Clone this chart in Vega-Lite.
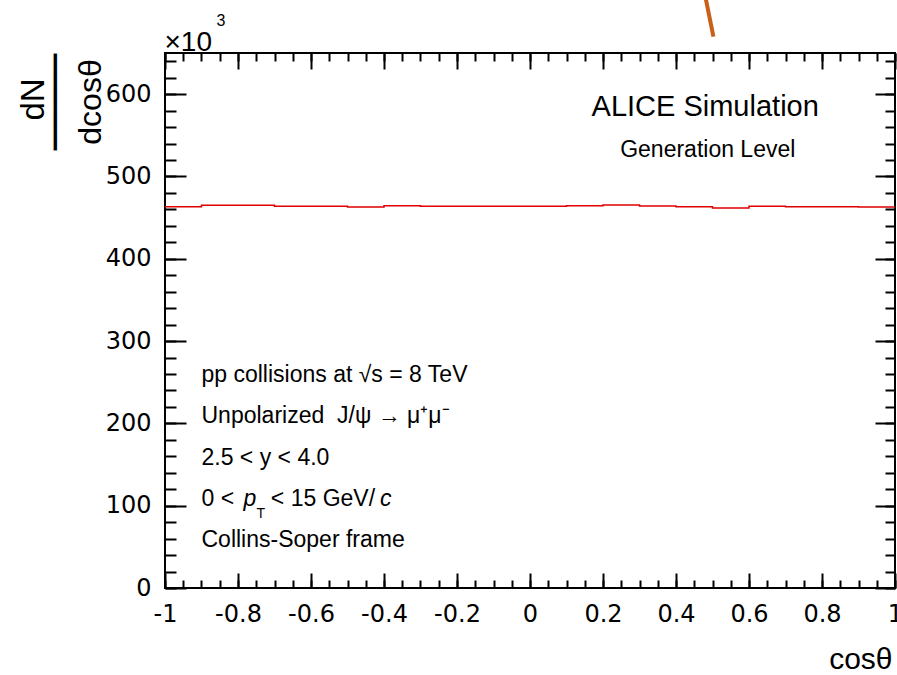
{
  "$schema": "https://vega.github.io/schema/vega-lite/v6.json",
  "width": 730,
  "height": 535,
  "autosize": {"type": "none"},
  "padding": {"left": 165, "top": 53, "right": 2, "bottom": 87},
  "background": "white",
  "config": {
    "view": {"stroke": "black", "strokeWidth": 2},
    "axis": {
      "domain": false, "grid": false, "tickColor": "black", "tickWidth": 2,
      "labelFont": "DejaVu Sans", "labelFontSize": 24, "labelColor": "black",
      "labelFlush": false, "labelOverlap": false, "labelBound": false,
      "titleColor": "black", "titleFont": "Liberation Sans", "titleFontWeight": "normal"
    },
    "text": {"font": "Liberation Sans", "color": "black"}
  },
  "resolve": {"axis": {"x": "independent", "y": "independent"}},
  "datasets": {
    "hist": [
      {"lo": -1.0, "n": 463.3}, {"lo": -0.9, "n": 465.0}, {"lo": -0.8, "n": 465.0}, {"lo": -0.7, "n": 463.7},
      {"lo": -0.6, "n": 463.9}, {"lo": -0.5, "n": 462.9}, {"lo": -0.4, "n": 464.5}, {"lo": -0.3, "n": 463.9},
      {"lo": -0.2, "n": 463.7}, {"lo": -0.1, "n": 463.7}, {"lo": 0.0, "n": 463.7}, {"lo": 0.1, "n": 464.5},
      {"lo": 0.2, "n": 465.3}, {"lo": 0.3, "n": 464.1}, {"lo": 0.4, "n": 463.3}, {"lo": 0.5, "n": 461.7},
      {"lo": 0.6, "n": 463.7}, {"lo": 0.7, "n": 463.3}, {"lo": 0.8, "n": 463.3}, {"lo": 0.9, "n": 462.9},
      {"lo": 1.0, "n": 462.9}
    ],
    "block": [
      {"t": "pp collisions at √s = 8 TeV", "x": -0.9, "y": 250},
      {"t": "Unpolarized\u00a0\u00a0J/ψ → μ⁺μ⁻", "x": -0.9, "y": 200},
      {"t": "2.5 < y < 4.0", "x": -0.9, "y": 150},
      {"t": "0 <", "x": -0.9, "y": 100},
      {"t": "< 15 GeV/", "x": -0.71, "y": 100},
      {"t": "Collins-Soper frame", "x": -0.9, "y": 50}
    ],
    "italic": [
      {"t": "p", "x": -0.785, "y": 100},
      {"t": "c", "x": -0.411, "y": 100}
    ],
    "sub": [
      {"t": "T", "x": -0.749, "y": 85.4}
    ],
    "alice": [
      {"t": "ALICE Simulation", "x": 0.48, "y": 573}
    ],
    "gen": [
      {"t": "Generation Level", "x": 0.487, "y": 523.5}
    ],
    "stray": [
      {"x": 0.482, "y": 715},
      {"x": 0.5025, "y": 670}
    ]
  },
  "layer": [
    {
      "data": {"name": "hist"},
      "mark": {"type": "line", "interpolate": "step-after", "color": "#e00000", "strokeWidth": 1.5},
      "encoding": {
        "x": {
          "field": "lo", "type": "quantitative",
          "scale": {"domain": [-1, 1], "nice": false, "zero": false},
          "axis": {
            "orient": "bottom",
            "values": [-1, -0.8, -0.6, -0.4, -0.2, 0, 0.2, 0.4, 0.6, 0.8, 1],
            "tickSize": -15, "labelPadding": 29.5, "labelBaseline": "top", "labelAlign": "center",
            "labelExpr": "datum.value < 0 ? '-' + format(-datum.value, '~g') : format(datum.value, '~g')",
            "title": "cosθ", "titleFontSize": 30, "titleX": 727, "titleY": 80,
            "titleAlign": "right", "titleBaseline": "alphabetic", "titleAngle": 0
          }
        },
        "y": {
          "field": "n", "type": "quantitative",
          "scale": {"domain": [0, 650], "nice": false, "zero": false},
          "axis": {
            "orient": "left",
            "values": [0, 100, 200, 300, 400, 500, 600],
            "tickSize": -21, "labelPadding": 35, "labelAlign": "right", "labelBaseline": "middle",
            "title": "dcosθ", "titleFontSize": 32, "titleAngle": 270, "titleX": -65, "titleY": 48.5,
            "titleAlign": "center", "titleBaseline": "alphabetic"
          }
        }
      }
    },
    {
      "data": {"name": "block"},
      "mark": {"type": "text", "align": "left", "baseline": "alphabetic", "fontSize": 23, "clip": false},
      "encoding": {
        "x": {
          "field": "x", "type": "quantitative",
          "scale": {"domain": [-1, 1], "nice": false, "zero": false},
          "axis": {
            "orient": "bottom",
            "values": [-1, -0.95, -0.9, -0.85, -0.8, -0.75, -0.7, -0.65, -0.6, -0.55, -0.5, -0.45, -0.4, -0.35, -0.3, -0.25, -0.2, -0.15, -0.1, -0.05, 0, 0.05, 0.1, 0.15, 0.2, 0.25, 0.3, 0.35, 0.4, 0.45, 0.5, 0.55, 0.6, 0.65, 0.7, 0.75, 0.8, 0.85, 0.9, 0.95, 1],
            "tickSize": -8, "labels": false, "title": null
          }
        },
        "y": {
          "field": "y", "type": "quantitative",
          "scale": {"domain": [0, 650], "nice": false, "zero": false},
          "axis": {
            "orient": "left",
            "values": [0, 20, 40, 60, 80, 100, 120, 140, 160, 180, 200, 220, 240, 260, 280, 300, 320, 340, 360, 380, 400, 420, 440, 460, 480, 500, 520, 540, 560, 580, 600, 620, 640],
            "tickSize": -11, "labels": false,
            "title": "dN", "titleFontSize": 33, "titleAngle": 270, "titleX": -122, "titleY": 46,
            "titleAlign": "center", "titleBaseline": "alphabetic"
          }
        },
        "text": {"field": "t"}
      }
    },
    {
      "data": {"name": "alice"},
      "mark": {"type": "text", "align": "center", "baseline": "alphabetic", "fontSize": 29, "clip": false},
      "encoding": {
        "x": {
          "field": "x", "type": "quantitative",
          "scale": {"domain": [-1, 1], "nice": false, "zero": false},
          "axis": {
            "orient": "top",
            "values": [-1, -0.8, -0.6, -0.4, -0.2, 0, 0.2, 0.4, 0.6, 0.8, 1],
            "tickSize": -16, "labels": false,
            "title": "×10", "titleFontSize": 28, "titleX": -1, "titleY": -3,
            "titleAlign": "left", "titleBaseline": "alphabetic", "titleAngle": 0
          }
        },
        "y": {
          "field": "y", "type": "quantitative",
          "scale": {"domain": [0, 650], "nice": false, "zero": false},
          "axis": {
            "orient": "right",
            "values": [0, 100, 200, 300, 400, 500, 600],
            "tickSize": -20, "labels": false,
            "title": "━━━━━━━━", "titleFont": "DejaVu Sans", "titleFontSize": 20,
            "titleAngle": 270, "titleX": -840, "titleY": 48.5,
            "titleAlign": "center", "titleBaseline": "middle"
          }
        },
        "text": {"field": "t"}
      }
    },
    {
      "data": {"name": "gen"},
      "mark": {"type": "text", "align": "center", "baseline": "alphabetic", "fontSize": 23, "clip": false},
      "encoding": {
        "x": {
          "field": "x", "type": "quantitative",
          "scale": {"domain": [-1, 1], "nice": false, "zero": false},
          "axis": {
            "orient": "top",
            "values": [-1, -0.95, -0.9, -0.85, -0.8, -0.75, -0.7, -0.65, -0.6, -0.55, -0.5, -0.45, -0.4, -0.35, -0.3, -0.25, -0.2, -0.15, -0.1, -0.05, 0, 0.05, 0.1, 0.15, 0.2, 0.25, 0.3, 0.35, 0.4, 0.45, 0.5, 0.55, 0.6, 0.65, 0.7, 0.75, 0.8, 0.85, 0.9, 0.95, 1],
            "tickSize": -8, "labels": false,
            "title": "3", "titleFontSize": 16, "titleX": 51, "titleY": -28,
            "titleAlign": "left", "titleBaseline": "alphabetic", "titleAngle": 0
          }
        },
        "y": {
          "field": "y", "type": "quantitative",
          "scale": {"domain": [0, 650], "nice": false, "zero": false},
          "axis": {
            "orient": "right",
            "values": [0, 20, 40, 60, 80, 100, 120, 140, 160, 180, 200, 220, 240, 260, 280, 300, 320, 340, 360, 380, 400, 420, 440, 460, 480, 500, 520, 540, 560, 580, 600, 620, 640],
            "tickSize": -10, "labels": false, "title": null
          }
        },
        "text": {"field": "t"}
      }
    },
    {
      "data": {"name": "italic"},
      "mark": {"type": "text", "align": "left", "baseline": "alphabetic", "fontSize": 23, "fontStyle": "italic", "clip": false},
      "encoding": {
        "x": {"field": "x", "type": "quantitative", "scale": {"domain": [-1, 1], "nice": false, "zero": false}, "axis": null},
        "y": {"field": "y", "type": "quantitative", "scale": {"domain": [0, 650], "nice": false, "zero": false}, "axis": null},
        "text": {"field": "t"}
      }
    },
    {
      "data": {"name": "sub"},
      "mark": {"type": "text", "align": "left", "baseline": "alphabetic", "fontSize": 14, "clip": false},
      "encoding": {
        "x": {"field": "x", "type": "quantitative", "scale": {"domain": [-1, 1], "nice": false, "zero": false}, "axis": null},
        "y": {"field": "y", "type": "quantitative", "scale": {"domain": [0, 650], "nice": false, "zero": false}, "axis": null},
        "text": {"field": "t"}
      }
    },
    {
      "data": {"name": "stray"},
      "mark": {"type": "line", "color": "#c8601a", "strokeWidth": 4, "clip": false},
      "encoding": {
        "x": {"field": "x", "type": "quantitative", "scale": {"domain": [-1, 1], "nice": false, "zero": false}, "axis": null},
        "y": {"field": "y", "type": "quantitative", "scale": {"domain": [0, 650], "nice": false, "zero": false}, "axis": null}
      }
    }
  ]
}
